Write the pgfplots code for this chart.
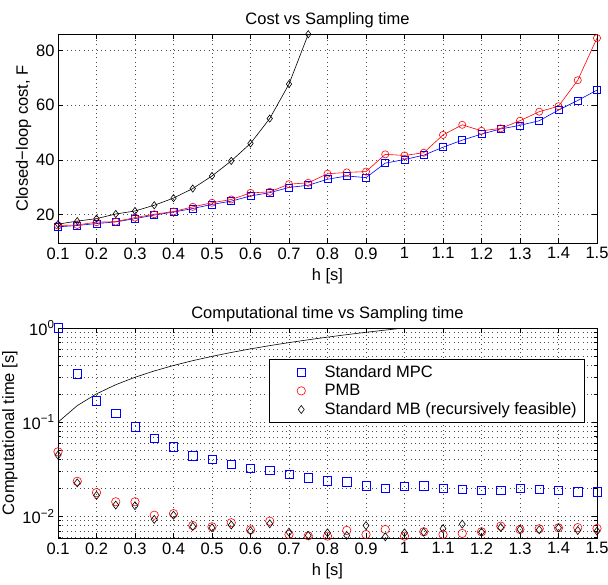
\documentclass[border=0pt]{standalone}
\usepackage{fontspec}
\setmainfont{Liberation Sans}
\usepackage{pgfplots}
\pgfplotsset{compat=1.18}

\newcommand{\mfont}{\fontsize{16.5}{19.8}\selectfont}

\pgfplotsset{
  mlab/.style={
    scale only axis,
    width=539pt,
    xmin=0.1, xmax=1.5,
    xtick={0.1,0.2,0.3,0.4,0.5,0.6,0.7,0.8,0.9,1,1.1,1.2,1.3,1.4,1.5},
    tick label style={font=\mfont},
    xticklabel style={yshift=-1pt},
    label style={font=\mfont},
    title style={font=\mfont, yshift=-3pt},
    /pgf/number format/assume math mode=true,
    xmajorgrids, ymajorgrids,
    grid style={black!70, line width=0.5pt, dash pattern=on 0.8pt off 3.5pt},
    axis line style={line width=0.8pt},
    tick style={black, line width=0.6pt},
    major tick length=5pt,
    minor tick length=3pt,
    xlabel={h [s]},
    xlabel style={yshift=-2pt},
    ylabel style={yshift=-2pt},
    every axis plot/.append style={line width=0.6pt},
  }
}

\begin{document}
\begin{tikzpicture}
\useasboundingbox (0,0) rectangle (608pt,585pt);

% top: closed-loop cost
\begin{axis}[mlab,
  at={(58pt,342pt)}, anchor=south west,
  height=209pt,
  ymin=9.6, ymax=86,
  ytick={20,40,60,80},
  ylabel={Closed−loop cost, F},
  title={Cost vs Sampling time},
]
\addplot[blue, mark=square, mark size=3.5pt] coordinates {
(0.1,15.5) (0.15,16.0) (0.2,16.7) (0.25,17.3) (0.3,18.5) (0.35,19.8) (0.4,20.9)
(0.45,22.2) (0.5,23.7) (0.55,24.9) (0.6,26.8) (0.65,28.0) (0.7,29.9) (0.75,30.7)
(0.8,32.9) (0.85,34.1) (0.9,33.5) (0.95,38.8) (1.0,40.1) (1.05,41.7) (1.1,44.6)
(1.15,47.2) (1.2,49.4) (1.25,51.3) (1.3,52.6) (1.35,54.3) (1.4,58.2) (1.45,61.7)
(1.5,65.5)};
\addplot[red, mark=o, mark size=3.6pt] coordinates {
(0.1,16.0) (0.15,16.2) (0.2,17.2) (0.25,17.4) (0.3,18.9) (0.35,20.1) (0.4,21.1)
(0.45,22.8) (0.5,24.3) (0.55,25.5) (0.6,27.9) (0.65,28.3) (0.7,31.1) (0.75,31.6)
(0.8,34.9) (0.85,35.4) (0.9,35.7) (0.95,42.0) (1.0,41.6) (1.05,42.6) (1.1,49.1)
(1.15,52.8) (1.2,50.6) (1.25,51.5) (1.3,54.3) (1.35,57.6) (1.4,59.6) (1.45,69.1)
(1.5,84.5)};
\addplot[black, mark=diamond, mark size=3.6pt] coordinates {
(0.1,16.5) (0.15,17.6) (0.2,18.5) (0.25,20.2) (0.3,21.3) (0.35,23.4) (0.4,26.0)
(0.45,29.5) (0.5,34.1) (0.55,39.6) (0.6,46.0) (0.65,55.1) (0.7,67.7) (0.75,85.9)};
\end{axis}

% bottom: computational time
\begin{axis}[mlab,
  at={(58pt,47pt)}, anchor=south west,
  height=210pt,
  ymode=log,
  ymin=0.0059, ymax=1,
  ytick={0.01,0.1,1},
  yticklabels={10\textsuperscript{\textminus2},10\textsuperscript{\textminus1},10\textsuperscript{0}},
  minor ytick={0.006,0.007,0.008,0.009,0.02,0.03,0.04,0.05,0.06,0.07,0.08,0.09,0.2,0.3,0.4,0.5,0.6,0.7,0.8,0.9},
  yminorgrids,
  minor grid style={black!70, line width=0.5pt, dash pattern=on 0.8pt off 3.5pt},
  ylabel={Computational time [s]},
  title={Computational time vs Sampling time},
  legend cell align=left,
  legend image code/.code={\path (0pt,0pt) (47pt,0pt); \draw[#1] plot coordinates {(26pt,0pt)};},
  legend style={at={(0.978,0.852)}, anchor=north east, draw=black, line width=0.8pt,
    fill=white, inner xsep=6pt, inner ysep=4pt, row sep=1.5pt,
    font=\mfont},
]
\addplot[blue, only marks, mark=square, mark size=4.2pt] coordinates {
(0.1,1.0) (0.15,0.326) (0.2,0.168) (0.25,0.124) (0.3,0.089) (0.35,0.0673) (0.4,0.0548)
(0.45,0.044) (0.5,0.0402) (0.55,0.0356) (0.6,0.0325) (0.65,0.0307) (0.7,0.0278) (0.75,0.0256)
(0.8,0.0238) (0.85,0.0232) (0.9,0.0211) (0.95,0.0200) (1.0,0.0209) (1.05,0.0211) (1.1,0.0199)
(1.15,0.0194) (1.2,0.0188) (1.25,0.0188) (1.3,0.0199) (1.35,0.0194) (1.4,0.0188) (1.45,0.0182)
(1.5,0.0182)};
\addlegendentry{Standard MPC}
\addplot[red, only marks, mark=o, mark size=4.2pt] coordinates {
(0.1,0.0485) (0.15,0.0236) (0.2,0.0179) (0.25,0.0143) (0.3,0.0143) (0.35,0.0103) (0.4,0.0107)
(0.45,0.0080) (0.5,0.00776) (0.55,0.00857) (0.6,0.00721) (0.65,0.0089) (0.7,0.00643) (0.75,0.00622)
(0.8,0.00617) (0.85,0.0071) (0.9,0.00643) (0.95,0.00727) (1.0,0.00617) (1.05,0.00687) (1.1,0.00643)
(1.15,0.00659) (1.2,0.00687) (1.25,0.00789) (1.3,0.00727) (1.35,0.0074) (1.4,0.00757) (1.45,0.0076)
(1.5,0.00745)};
\addlegendentry{PMB}
\addplot[black, only marks, mark=diamond, mark size=4pt] coordinates {
(0.1,0.0447) (0.15,0.0227) (0.2,0.0167) (0.25,0.0132) (0.3,0.0130) (0.35,0.0093) (0.4,0.0103)
(0.45,0.00782) (0.5,0.00757) (0.55,0.0081) (0.6,0.00703) (0.65,0.00835) (0.7,0.00681) (0.75,0.00628)
(0.8,0.0067) (0.85,0.00628) (0.9,0.0080) (0.95,0.00607) (1.0,0.0067) (1.05,0.00681) (1.1,0.0074)
(1.15,0.00828) (1.2,0.00681) (1.25,0.00763) (1.3,0.00727) (1.35,0.00721) (1.4,0.00757) (1.45,0.0071)
(1.5,0.00698)};
\addlegendentry{Standard MB (recursively feasible)}
\addplot[black, no marks, forget plot] coordinates {
(0.1,0.1) (0.15,0.15) (0.2,0.2) (0.25,0.25) (0.3,0.3) (0.35,0.35) (0.4,0.4) (0.45,0.45)
(0.5,0.5) (0.55,0.55) (0.6,0.6) (0.65,0.65) (0.7,0.7) (0.75,0.75) (0.8,0.8) (0.85,0.85)
(0.9,0.9) (0.95,0.95) (0.98,0.98)};
\end{axis}
\end{tikzpicture}
\end{document}
